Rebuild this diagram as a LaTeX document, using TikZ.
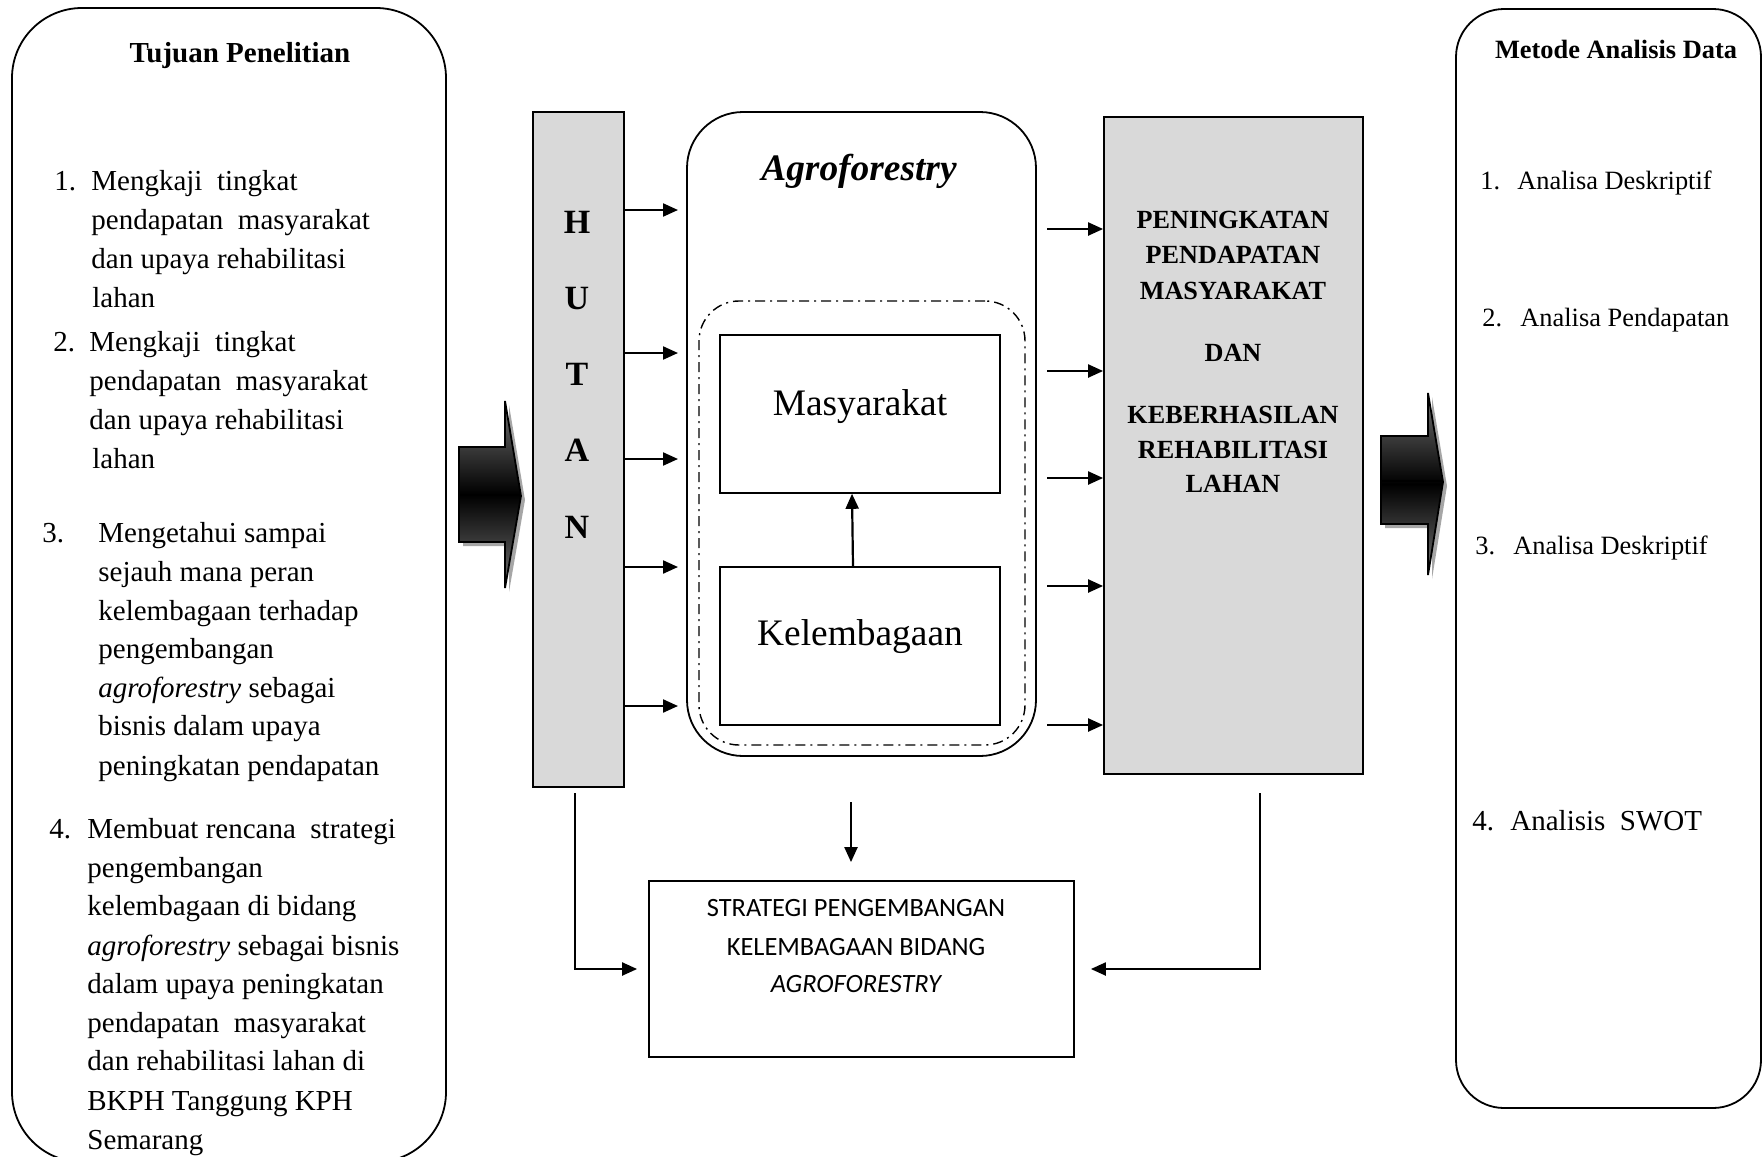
\documentclass[tikz,border=0pt]{standalone}
\usepackage{fontspec}
\setmainfont{Liberation Serif}
\newfontfamily\carlitofont{Carlito}
\usetikzlibrary{arrows.meta,calc,fit}
\definecolor{boxgray}{HTML}{D9D9D9}
\begin{document}
\begin{tikzpicture}[x=0.5pt,y=-0.5pt,
  frame/.style={draw,line width=0.9pt,inner sep=0pt},
  body/.style={font=\fontsize{14.5}{17}\selectfont,inner sep=0pt,anchor=base west},
  rbody/.style={font=\fontsize{13.2}{16}\selectfont,inner sep=0pt,anchor=base west},
  ttl/.style={font=\fontsize{14.5}{17}\selectfont\bfseries,inner sep=0pt,anchor=base},
  hut/.style={font=\fontsize{17}{20}\selectfont\bfseries,inner sep=0pt,anchor=base},
  big/.style={font=\fontsize{18.7}{22}\selectfont,inner sep=0pt,anchor=base},
  gtxt/.style={font=\fontsize{13.1}{16}\selectfont\bfseries,inner sep=0pt,anchor=base},
  stxt/.style={font=\carlitofont\fontsize{13.2}{16}\selectfont,inner sep=0pt,anchor=base},
  arr/.style={line width=1.1pt,-{Triangle[length=7.5pt,width=6.5pt]}},
  blockarrow/.style={draw=black,line width=0.9pt,top color=black!55,bottom color=black!55,middle color=black},
  shadowarrow/.style={fill=black!35,draw=none}
]
\useasboundingbox (0,0) rectangle (1763,1157);

% ---------- left box ----------
\node[frame,rounded corners=35pt,fit={(12,8) (446,1162)}] (tujuan) {};
\node[ttl] (tujuanT) at (240,62) {Tujuan Penelitian};

\node[body] (n1) at (54,190) {1.};
\node[body] (t1a) at (91,190) {Mengkaji\ \ tingkat};
\node[body] (t1b) at (91,229) {pendapatan\ \ masyarakat};
\node[body] (t1c) at (91,268) {dan upaya rehabilitasi};
\node[body] (t1d) at (92,307) {lahan};

\node[body] (n2) at (53,351) {2.};
\node[body] (t2a) at (89,351) {Mengkaji\ \ tingkat};
\node[body] (t2b) at (89,390) {pendapatan\ \ masyarakat};
\node[body] (t2c) at (89,429) {dan upaya rehabilitasi};
\node[body] (t2d) at (92,468) {lahan};

\node[body] (n3) at (42,542) {3.};
\node[body] (t3a) at (98,542) {Mengetahui sampai};
\node[body] (t3b) at (98,581) {sejauh mana peran};
\node[body] (t3c) at (98,620) {kelembagaan terhadap};
\node[body] (t3d) at (98,658) {pengembangan};
\node[body] (t3e) at (98,697) {\textit{agroforestry} sebagai};
\node[body] (t3f) at (98,735) {bisnis dalam upaya};
\node[body] (t3g) at (98,775) {peningkatan pendapatan};

\node[body] (n4) at (49,838) {4.};
\node[body] (t4a) at (87,838) {Membuat rencana\ \ strategi};
\node[body] (t4b) at (87,877) {pengembangan};
\node[body] (t4c) at (87,915) {kelembagaan di bidang};
\node[body] (t4d) at (87,955) {\textit{agroforestry} sebagai bisnis};
\node[body] (t4e) at (87,993) {dalam upaya peningkatan};
\node[body] (t4f) at (87,1032) {pendapatan\ \ masyarakat};
\node[body] (t4g) at (87,1070) {dan rehabilitasi lahan di};
\node[body] (t4h) at (87,1110) {BKPH Tanggung KPH};
\node[body] (t4i) at (87,1149) {Semarang};

% ---------- block arrows ----------
\fill[shadowarrow] (463,451) -- (509,451) -- (509,405) -- (525,500) -- (509,592) -- (509,546) -- (463,546) -- cycle;
\path[blockarrow] (459,447) -- (505,447) -- (505,401) -- (521,496) -- (505,588) -- (505,542) -- (459,542) -- cycle;
\draw[line width=0.9pt] (459,495) -- (520,495);

\fill[shadowarrow] (1385,440) -- (1432,440) -- (1432,397) -- (1447,486) -- (1432,579) -- (1432,528) -- (1385,528) -- cycle;
\path[blockarrow] (1381,436) -- (1428,436) -- (1428,393) -- (1443,482) -- (1428,575) -- (1428,524) -- (1381,524) -- cycle;
\draw[line width=0.9pt] (1381,481) -- (1442,481);

% ---------- HUTAN ----------
\node[frame,fill=boxgray,fit={(533,112) (624,787)}] (hutan) {};
\node[hut] (hH) at (577,233) {H};
\node[hut] (hU) at (577,309) {U};
\node[hut] (hT) at (577,385) {T};
\node[hut] (hA) at (577,461) {A};
\node[hut] (hN) at (577,538) {N};

% ---------- Agroforestry ----------
\node[frame,rounded corners=28pt,fit={(687,112) (1036,756)}] (agro) {};
\node[big,font=\fontsize{18.7}{22}\selectfont\bfseries\itshape] (agroT) at (859,180) {Agroforestry};
\node[draw,line width=0.7pt,inner sep=0pt,rounded corners=20pt,dash pattern=on 5pt off 2.5pt on 1pt off 2.5pt,fit={(699,301) (1025,745)}] (inner) {};
\node[frame,line width=0.8pt,fit={(720,335) (1000,493)}] (mas) {};
\node[big] (masT) at (860,415) {Masyarakat};
\node[frame,line width=0.8pt,fit={(720,567) (1000,725)}] (kel) {};
\node[big] (kelT) at (860,645) {Kelembagaan};
\draw[arr] ([xshift=-3.5pt]kel.north) -- ([xshift=-4pt]mas.south);

% ---------- gray result box ----------
\node[frame,fill=boxgray,fit={(1104,117) (1363,774)}] (hasil) {};
\node[gtxt] (g1) at (1233,228) {PENINGKATAN};
\node[gtxt] (g2) at (1233,263) {PENDAPATAN};
\node[gtxt] (g3) at (1233,299) {MASYARAKAT};
\node[gtxt] (g4) at (1233,361) {DAN};
\node[gtxt] (g5) at (1233,423) {KEBERHASILAN};
\node[gtxt] (g6) at (1233,458) {REHABILITASI};
\node[gtxt] (g7) at (1233,492) {LAHAN};

% ---------- right box ----------
\node[frame,rounded corners=24pt,fit={(1456,9) (1761,1108)}] (metode) {};
\node[ttl,font=\fontsize{13.2}{16}\selectfont\bfseries] (metodeT) at (1616,58) {Metode Analisis Data};
\node[rbody] (m1n) at (1480,189) {1.};
\node[rbody] (m1) at (1517,189) {Analisa Deskriptif};
\node[rbody] (m2n) at (1482,326) {2.};
\node[rbody] (m2) at (1520,326) {Analisa Pendapatan};
\node[rbody] (m3n) at (1475,554) {3.};
\node[rbody] (m3) at (1513,554) {Analisa Deskriptif};
\node[body] (m4n) at (1472,830) {4.};
\node[body] (m4) at (1510,830) {Analisis\ \ SWOT};

% ---------- strategy box ----------
\node[frame,fit={(649,881) (1074,1057)}] (strat) {};
\node[stxt] (s1) at (856,916) {STRATEGI PENGEMBANGAN};
\node[stxt] (s2) at (856,955) {KELEMBAGAAN BIDANG};
\node[stxt] (s3) at (856,992) {\itshape AGROFORESTRY};

% ---------- connectors ----------
\foreach \yy [count=\k] in {210,353,459,567,706} {
  \coordinate (ha\k) at (678,\yy);
  \draw[arr] (hutan.east |- ha\k) -- (ha\k);
}
\foreach \yy [count=\k] in {229,371,478,586,725} {
  \coordinate (ag\k) at (1047,\yy);
  \draw[arr] (ag\k) -- (hasil.west |- ag\k);
}
\coordinate (dtop) at (851,802);
\draw[arr] (dtop) -- ([yshift=9pt]strat.north -| dtop);
\coordinate (lstart) at (575,793);
\draw[arr] (lstart) |- ([xshift=-5.5pt]strat.west);
\coordinate (rstart) at (1260,793);
\draw[arr] (rstart) |- ([xshift=8pt]strat.east);
\end{tikzpicture}
\end{document}
